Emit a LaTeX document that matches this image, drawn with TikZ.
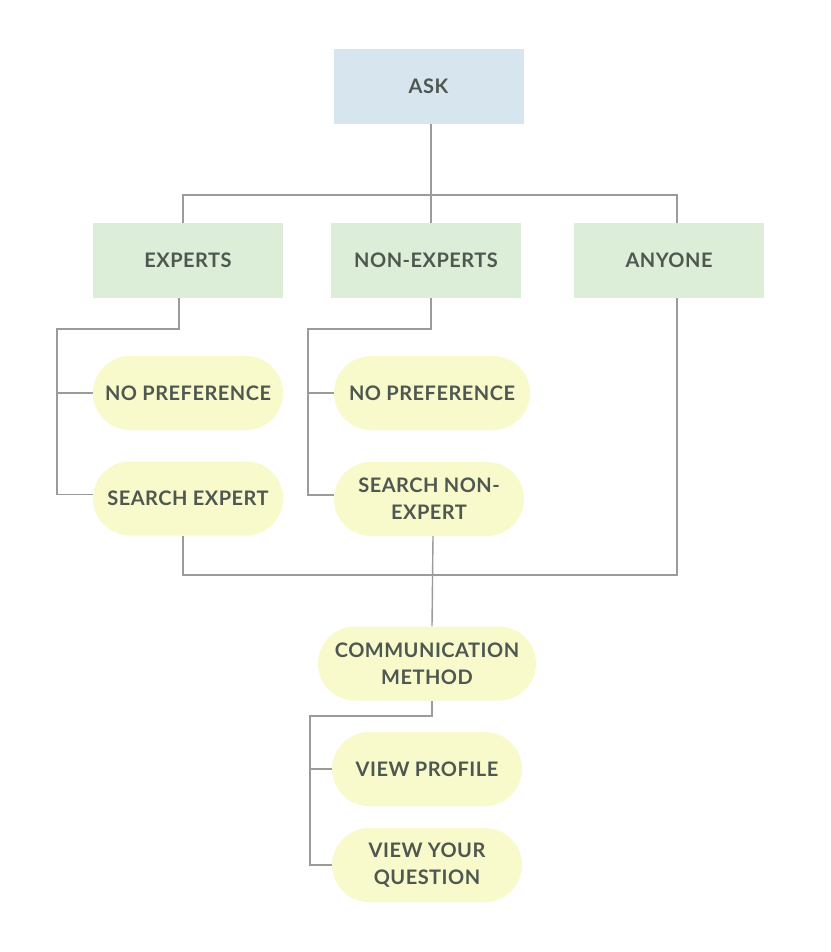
\documentclass[tikz,border=0pt]{standalone}
\usepackage{fontspec}
\setmainfont{Lato}[UprightFont=* Bold, LetterSpace=2.5]
\usepackage{xcolor}
\definecolor{askblue}{RGB}{215,229,238}
\definecolor{groupgreen}{RGB}{220,237,216}
\definecolor{pillyellow}{RGB}{248,250,204}
\definecolor{textgrey}{RGB}{78,88,80}
\definecolor{linegrey}{RGB}{155,155,155}
\usepackage{tikz}

\begin{document}
\begin{tikzpicture}[x=1pt, y=-1pt]
% Configuration
\tikzset{
  every node/.style={font=\fontsize{20}{27}\selectfont, text=textgrey, align=center},
  box/.style={rectangle, minimum width=190pt, minimum height=75pt, inner sep=0pt},
  pill/.style={rectangle, rounded corners=37pt, fill=pillyellow, minimum height=74pt, inner sep=0pt},
  link/.style={draw=linegrey, line width=1.4pt}
}
\useasboundingbox (0,0) rectangle (830,952);

% ASK
\node[box, fill=askblue] (A) at (428.5, 86.5) {ASK};

% Groups
\node[box, fill=groupgreen] (E) at (188, 260.5) {EXPERTS};
\node[box, fill=groupgreen] (N) at (426, 260.5) {NON-EXPERTS};
\node[box, fill=groupgreen] (Y) at (669, 260.5) {ANYONE};

% Choices
\node[pill, minimum width=190pt] (P1) at (188, 393) {NO PREFERENCE};
\node[pill, minimum width=190pt] (S1) at (188, 498.5) {SEARCH EXPERT};
\node[pill, minimum width=196pt] (P2) at (432, 393) {NO PREFERENCE};
\node[pill, minimum width=190pt] (S2) at (429, 499) {SEARCH NON-\\EXPERT};

% Communication
\node[pill, minimum width=218pt] (C) at (427, 663.5) {COMMUNICATION\\METHOD};
\node[pill, minimum width=190pt] (V) at (427, 769) {VIEW PROFILE};
\node[pill, minimum width=190pt] (Q) at (427, 865) {VIEW YOUR\\QUESTION};

% Junctions
\coordinate (top) at (431, 195);
\coordinate (e1) at (57, 329);
\coordinate (n1) at (308, 329);
\coordinate (bot) at (432, 575);
\coordinate (c1) at (310, 716);

% Connections
\draw[link] ([xshift=2.5pt]A.south) -- ([xshift=5pt]N.north);
\draw[link] ([xshift=-5pt]E.north) |- (top) -| ([xshift=8pt]Y.north);
\draw[link] ([xshift=-9pt]E.south) |- (e1) |- ([yshift=4pt]S1.west);
\draw[link] (P1.west) -- (P1.west -| e1);
\draw[link] ([xshift=5pt]N.south) |- (n1) |- ([yshift=4pt]S2.west);
\draw[link] (P2.west) -- (P2.west -| n1);
\draw[link] ([xshift=-5pt]S1.south) |- (bot) -| ([xshift=8pt]Y.south);
\draw[link] ([xshift=4pt]S2.south) -- ([xshift=5pt]C.north);
\draw[link] ([xshift=5pt]C.south) |- (c1) |- (Q.west);
\draw[link] (V.west) -- (V.west -| c1);
\end{tikzpicture}
\end{document}
